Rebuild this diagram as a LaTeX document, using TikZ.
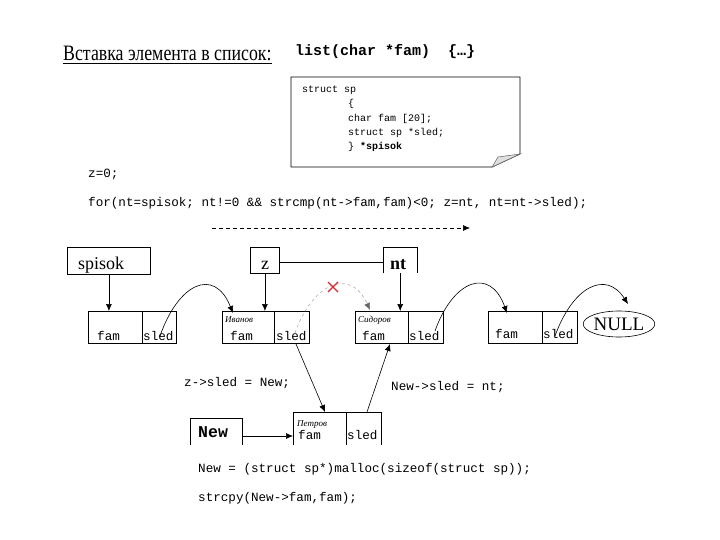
\documentclass[tikz,border=0pt]{standalone}
\usepackage{fontspec}
\usepackage{graphicx}
\setmainfont{Liberation Serif}
\setmonofont{Liberation Mono}
\usetikzlibrary{arrows.meta,shapes.geometric}
\definecolor{xred}{RGB}{215,40,45}
\definecolor{ghost}{RGB}{175,175,175}
\begin{document}
\begin{tikzpicture}[x=1pt,y=-1pt,
  code/.style={font=\fontsize{12.6}{14}\selectfont\ttfamily, inner sep=0pt, anchor=base west},
  scode/.style={font=\fontsize{10}{12}\selectfont\ttfamily, inner sep=0pt, anchor=base west},
  rname/.style={font=\fontsize{9}{10}\selectfont\itshape, inner sep=0pt, anchor=base west},
  serif/.style={font=\fontsize{18}{20}\selectfont, inner sep=0pt, anchor=base west},
  cell/.style={draw, line width=0.8pt, minimum height=32pt, inner sep=0pt, anchor=north west},
  opencell/.style={minimum height=33pt, inner sep=0pt, anchor=north west},
  ptr/.style={-{Latex[length=7pt,width=6pt]}, line width=0.6pt},
  edge3/.style={line width=0.8pt}]
\useasboundingbox (0,0) rectangle (720,540);
\fill[white] (0,0) rectangle (720,540);

% title
\node[inner sep=0pt, anchor=base west] (title) at (63,61)
  {\scalebox{0.81}[1]{\fontsize{22}{24}\selectfont\underline{Вставка элемента в список:}}};
\node[inner sep=0pt, anchor=base west, font=\fontsize{15}{17}\selectfont\ttfamily\bfseries] (head) at (295,56)
  {list(char *fam)~~\{…\}};

% struct note
\draw[line width=0.8pt] (291,77) -- (520,77) -- (520,154) -- (492,167) -- (291,167) -- cycle;
\draw[fill=black!12, draw=black!55, line width=0.6pt] (492,167) -- (498,157) -- (520,154) -- cycle;
\node[scode] (s1) at (302,93) {struct sp};
\node[scode] (s2) at (348,107) {\{};
\node[scode] (s3) at (348,122) {char fam [20];};
\node[scode] (s4) at (348,136) {struct sp *sled;};
\node[scode] (s5) at (348,150) {\} \textbf{*spisok}};

% code lines
\node[code] (c1) at (88,178) {z=0;};
\node[code] (c2) at (88,207) {for(nt=spisok; nt!=0 \&\& strcmp(nt->fam,fam)<0; z=nt, nt=nt->sled);};
\coordinate (dA) at (212,228);
\coordinate (dB) at (470,228);
\draw[ptr, dash pattern=on 4pt off 3pt] (dA) -- (dB);

% pointer boxes
\node[draw, line width=0.8pt, minimum width=83pt, minimum height=27pt, inner sep=0pt, anchor=north west] (spisok) at (67,247) {};
\node[serif] (spisokt) at (78,269) {spisok};
\node[draw, line width=0.8pt, minimum width=29pt, minimum height=26pt, inner sep=0pt, anchor=north west] (z) at (250,247) {};
\node[serif] (zt) at (261,269) {z};
\node[minimum width=34pt, minimum height=26pt, inner sep=0pt, anchor=north west] (nt) at (383,247) {};
\draw[edge3] (nt.south west) -- (nt.north west) -- (nt.north east) -- (nt.south east);
\node[serif, font=\fontsize{18}{20}\selectfont\bfseries] (ntt) at (390,269) {nt};
\draw[line width=0.8pt] (z.east |- 0,262) -- (nt.west |- 0,262);

% list nodes
\node[cell, minimum width=54pt] (n1f) at (88,311) {};
\node[cell, minimum width=34pt] (n1s) at (142,311) {};
\node[code] at (97,340) {fam};
\node[code] at (143,340) {sled};

\node[cell, minimum width=52pt] (n2f) at (222,311) {};
\node[cell, minimum width=35pt] (n2s) at (274,311) {};
\node[rname] at (225,322) {Иванов};
\node[code] at (230,340) {fam};
\node[code] at (276,340) {sled};

\node[cell, minimum width=53pt] (n3f) at (355,311) {};
\node[cell, minimum width=35pt] (n3s) at (408,311) {};
\node[rname] at (358,322) {Сидоров};
\node[code] at (362,340) {fam};
\node[code] at (409,340) {sled};

\node[cell, minimum width=54pt] (n4f) at (488,311) {};
\node[cell, minimum width=35pt] (n4s) at (542,311) {};
\node[code] at (495,338) {fam};
\node[code] at (543,338) {sled};

\node[ellipse, draw, line width=0.6pt, minimum width=71pt, minimum height=26pt, inner sep=0pt,
  font=\fontsize{19}{21}\selectfont] (null) at (619,324) {NULL};

% new node (Petrov)
\node[opencell, minimum width=53pt] (pf) at (293,412) {};
\node[opencell, minimum width=35pt] (ps) at (346,412) {};
\draw[edge3] (pf.south west) -- (pf.north west) -- (ps.north east) -- (ps.south east);
\draw[edge3] (ps.north west) -- (ps.south west);
\node[rname] at (297,426) {Петров};
\node[code] at (298,439) {fam};
\node[code] at (347,439) {sled};

\node[minimum width=52pt, minimum height=27pt, inner sep=0pt, anchor=north west] (newb) at (190,418) {};
\draw[edge3] (newb.south west) -- (newb.north west) -- (newb.north east) -- (newb.south east);
\node[inner sep=0pt, anchor=base west, font=\fontsize{16.5}{18}\selectfont\ttfamily\bfseries] (newt) at (198,437) {New};

% vertical pointers
\draw[ptr] (spisok.south) -- (spisok.south |- n1f.north);
\draw[ptr] (z.south) -- (z.south |- n2f.north);
\draw[ptr] (nt.south) -- (nt.south |- n3f.north);

% curved links
\coordinate (a1) at (160,336);
\coordinate (b1) at (233,313);
\draw[ptr] (a1) .. controls (178,284) and (214,266) .. (b1);
\coordinate (a3) at (435,331);
\coordinate (b3) at (507,313);
\draw[ptr] (a3) .. controls (453,280) and (490,266) .. (b3);
\coordinate (a4) at (555,336);
\coordinate (b4) at (628,304);
\draw[ptr] (a4) .. controls (573,286) and (606,270) .. (b4);

% broken link
\coordinate (a2) at (295,333);
\coordinate (b2) at (370,310);
\draw[ghost, dashed, line width=0.6pt, -{Latex[length=7pt,width=6pt,fill=black!60,color=black!60]}]
  (a2) .. controls (312,284) and (350,266) .. (b2);
\coordinate (xm) at (333,287);
\draw[xred, line width=1.1pt] (328,282) -- (338,292) (328,292) -- (338,282);

% new links
\coordinate (a5) at (296,344);
\coordinate (b5) at (325,412);
\draw[ptr] (a5) -- (b5);
\coordinate (a6) at (367,412);
\coordinate (b6) at (390,344);
\draw[ptr] (a6) -- (b6);
\draw[ptr] (newb.east |- 0,436) -- (pf.west |- 0,436);

% labels
\node[code] (l1) at (184,386) {z->sled = New;};
\node[code] (l2) at (391,390) {New->sled = nt;};
\node[code] (l3) at (198,472) {New = (struct sp*)malloc(sizeof(struct sp));};
\node[code] (l4) at (198,501) {strcpy(New->fam,fam);};
\end{tikzpicture}
\end{document}
